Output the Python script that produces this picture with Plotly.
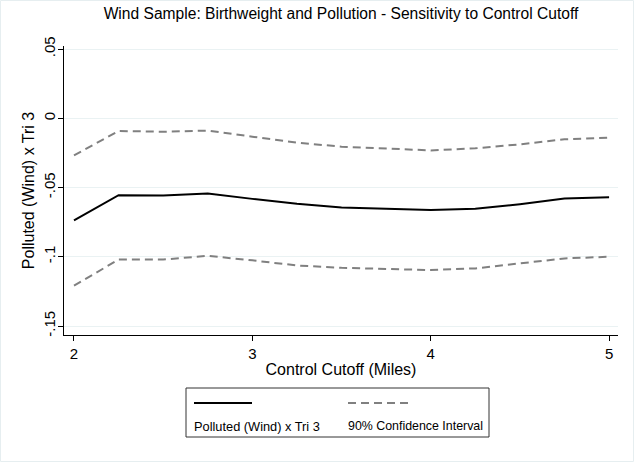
import plotly.graph_objects as go

cutoff = [2.0, 2.25, 2.5, 2.75, 3.0, 3.25, 3.5, 3.75, 4.0, 4.25, 4.5, 4.75, 5.0]
coef = [-0.0738, -0.0555, -0.0558, -0.0543, -0.0582, -0.0618, -0.0644, -0.0654, -0.0663, -0.0654, -0.0620, -0.0580, -0.0570]
ci_lo = [-0.1209, -0.1020, -0.1020, -0.0993, -0.1026, -0.1063, -0.1080, -0.1090, -0.1096, -0.1084, -0.1048, -0.1012, -0.1000]
ci_hi = [-0.0268, -0.0092, -0.0097, -0.0089, -0.0133, -0.0176, -0.0205, -0.0217, -0.0232, -0.0217, -0.0188, -0.0152, -0.0140]
yticks = [0.05, 0.0, -0.05, -0.1, -0.15]
ytick_labels = [".05", "0", "-.05", "-.1", "-.15"]
xticks = [2, 3, 4, 5]
legend_labels = ["Polluted (Wind) x Tri 3", "90% Confidence Interval"]

W, H = 634, 462
L, R, T, B = 64, 618, 46, 335
FONT = "Liberation Sans, Arial, sans-serif"
GRAY = "#808080"
DASH = "8px,5px"

def px(x):
    return (x - L) / (R - L)

def py(y):
    return (B - y) / (B - T)

fig = go.Figure()
fig.add_trace(go.Scatter(x=cutoff, y=ci_hi, mode="lines", line=dict(color=GRAY, width=2, dash=DASH), showlegend=False, hoverinfo="skip"))
fig.add_trace(go.Scatter(x=cutoff, y=ci_lo, mode="lines", line=dict(color=GRAY, width=2, dash=DASH), showlegend=False, hoverinfo="skip"))
fig.add_trace(go.Scatter(x=cutoff, y=coef, mode="lines", line=dict(color="black", width=2), showlegend=False))

shapes = [
    dict(type="rect", xref="paper", yref="paper", x0=px(0.5), x1=px(W - 0.5), y0=py(H - 0.5), y1=py(0.5),
         line=dict(color="#e6eef0", width=1), layer="below"),
    dict(type="rect", xref="paper", yref="paper", x0=px(186), x1=px(489), y0=py(437), y1=py(388),
         line=dict(color="#333333", width=1), fillcolor="white", layer="below"),
    dict(type="line", xref="paper", yref="paper", x0=px(194), x1=px(252), y0=py(403), y1=py(403),
         line=dict(color="black", width=2)),
    dict(type="line", xref="paper", yref="paper", x0=px(348), x1=px(408), y0=py(403), y1=py(403),
         line=dict(color=GRAY, width=2, dash=DASH)),
]
annotations = [
    dict(xref="paper", yref="paper", x=px(192), y=py(426), text=legend_labels[0], showarrow=False,
         xanchor="left", yanchor="middle", font=dict(family=FONT, size=12.8, color="black")),
    dict(xref="paper", yref="paper", x=px(346), y=py(426), text=legend_labels[1], showarrow=False,
         xanchor="left", yanchor="middle", font=dict(family=FONT, size=12.4, color="black")),
]

fig.update_layout(
    width=W, height=H,
    margin=dict(l=L, r=W - R, t=T, b=H - B),
    paper_bgcolor="white", plot_bgcolor="white",
    font=dict(family=FONT, size=15, color="black"),
    title=dict(text="Wind Sample: Birthweight and Pollution - Sensitivity to Control Cutoff",
               x=0.5, xref="paper", y=1 - 14 / H, yref="container", yanchor="middle",
               font=dict(family=FONT, size=15.6, color="black")),
    xaxis=dict(range=[1.944, 5.05], tickvals=xticks, ticks="outside", ticklen=5, tickcolor="black",
               showline=True, linecolor="black", linewidth=1, showgrid=False, zeroline=False,
               title=dict(text="Control Cutoff (Miles)", standoff=2, font=dict(size=16)),
               tickfont=dict(size=15)),
    yaxis=dict(range=[-0.1565, 0.0522], tickvals=yticks, ticktext=ytick_labels, tickangle=-90,
               ticks="outside", ticklen=5, tickcolor="black", ticklabelstandoff=-3,
               showline=True, linecolor="black", linewidth=1,
               showgrid=True, gridcolor="#eaf2f3", gridwidth=1, zeroline=False,
               title=dict(text="Polluted (Wind) x Tri 3", standoff=2, font=dict(size=16)),
               tickfont=dict(size=15)),
    shapes=shapes, annotations=annotations,
)

fig.write_html("out.html")
